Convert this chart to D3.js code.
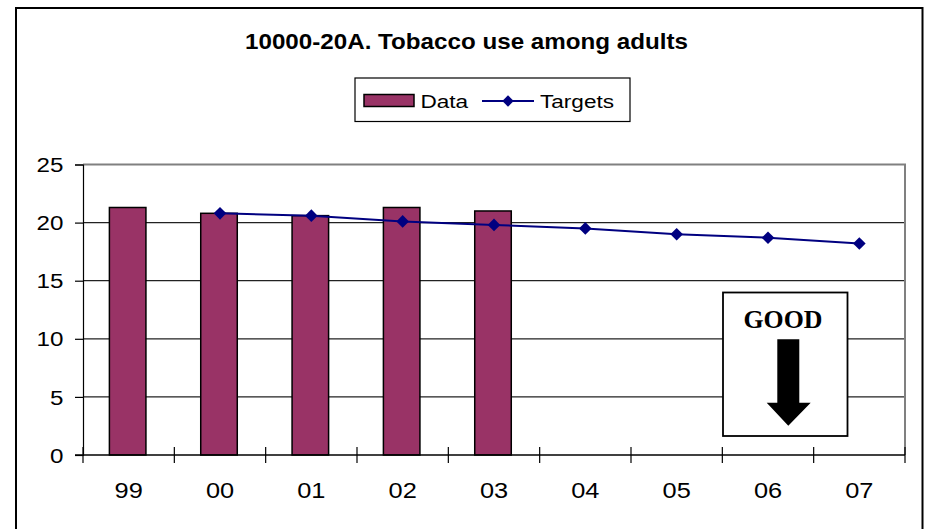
<!DOCTYPE html>
<html>
<head>
<meta charset="utf-8">
<script src="https://cdn.jsdelivr.net/npm/d3@7"></script>
<style>
  html, body { margin: 0; padding: 0; background: #fff; }
  svg { display: block; }
  text { font-family: Arial, "Liberation Sans", sans-serif; }
  text.serif { font-family: "Liberation Serif", "Times New Roman", serif; }
</style>
</head>
<body>
<svg id="chart" width="926" height="529"></svg>
<script>
// Tobacco use among adults: observed values (bars) and yearly targets (line)
const years = ["99", "00", "01", "02", "03", "04", "05", "06", "07"];
const dataValues = [21.3, 20.8, 20.6, 21.3, 21.0, null, null, null, null];
const targetValues = [null, 20.8, 20.6, 20.1, 19.8, 19.5, 19.0, 18.7, 18.2];
const yTicks = [0, 5, 10, 15, 20, 25];
const titleText = "10000-20A. Tobacco use among adults";

// the chart's lettering is slightly wide-set
const WIDE = 1.18;

const svg = d3.select("#chart");

// outer chart frame
svg.append("rect")
  .attr("x", 16).attr("y", 8)
  .attr("width", 906.5).attr("height", 540)
  .attr("fill", "#fff").attr("stroke", "#000").attr("stroke-width", 2);

// title
svg.append("text")
  .attr("x", 466.5).attr("y", 48.5)
  .attr("text-anchor", "middle")
  .attr("font-size", 22).attr("font-weight", "bold")
  .attr("textLength", 443).attr("lengthAdjust", "spacingAndGlyphs")
  .text(titleText);

// plot area
const plot = { left: 83, right: 905, top: 164.5, bottom: 455 };

const x = d3.scaleBand().domain(years).range([plot.left, plot.right]).paddingInner(0).paddingOuter(0);
const y = d3.scaleLinear().domain([0, 25]).range([plot.bottom, plot.top]);

// horizontal gridlines
svg.append("g")
  .selectAll("line")
  .data(yTicks.filter(t => t > 0 && t < 25))
  .join("line")
  .attr("x1", plot.left).attr("x2", plot.right)
  .attr("y1", d => y(d)).attr("y2", d => y(d))
  .attr("stroke", "#222").attr("stroke-width", 1.2);

// plot area border (top and right in gray)
svg.append("path")
  .attr("d", `M${plot.left},${y(25)}H${plot.right}V${plot.bottom}`)
  .attr("fill", "none").attr("stroke", "#808080").attr("stroke-width", 2);

// bars
const barW = x.bandwidth() * 0.4;
svg.append("g")
  .selectAll("rect")
  .data(years.map((yr, i) => ({ yr, v: dataValues[i] })).filter(d => d.v != null))
  .join("rect")
  .attr("x", d => x(d.yr) + x.bandwidth() / 2 - barW / 2 - 1)
  .attr("y", d => y(d.v))
  .attr("width", barW)
  .attr("height", d => y(0) - y(d.v))
  .attr("fill", "#993366")
  .attr("stroke", "#000").attr("stroke-width", 1.5);

// y axis
const yAxis = svg.append("g")
  .attr("transform", `translate(${plot.left},0)`)
  .call(d3.axisLeft(y).tickValues(yTicks).tickSize(8).tickPadding(12).tickFormat(d3.format("d")));
yAxis.select(".domain").attr("stroke", "#000").attr("stroke-width", 1.2);
yAxis.selectAll(".tick line").attr("stroke", "#000").attr("stroke-width", 1.2);
yAxis.selectAll(".tick text")
  .attr("font-size", 20.5).attr("fill", "#000")
  .attr("x", -19.5 / WIDE)
  .attr("dy", "0.35em")
  .attr("transform", `scale(${WIDE},1)`);

// x axis with crossing tick marks at category boundaries
const xg = svg.append("g");
xg.append("line")
  .attr("x1", plot.left - 8).attr("x2", plot.right)
  .attr("y1", y(0)).attr("y2", y(0))
  .attr("stroke", "#000").attr("stroke-width", 1.5);
const boundaries = years.map(yr => x(yr)).concat([x(years[years.length - 1]) + x.bandwidth()]);
xg.selectAll("line.tick")
  .data(boundaries)
  .join("line")
  .attr("class", "tick")
  .attr("x1", d => d).attr("x2", d => d)
  .attr("y1", y(0) - 8).attr("y2", y(0) + 8)
  .attr("stroke", "#000").attr("stroke-width", 1.2);
xg.selectAll("text")
  .data(years)
  .join("text")
  .attr("transform", d => `translate(${x(d) + x.bandwidth() / 2},497.5) scale(${WIDE},1)`)
  .attr("text-anchor", "middle")
  .attr("font-size", 21.5)
  .text(d => d);

// target line with diamond markers
const targetPts = years.map((yr, i) => ({ yr, v: targetValues[i] })).filter(d => d.v != null);
const line = d3.line()
  .x(d => x(d.yr) + x.bandwidth() / 2)
  .y(d => y(d.v));
svg.append("path")
  .datum(targetPts)
  .attr("d", line)
  .attr("fill", "none").attr("stroke", "#000080").attr("stroke-width", 2);
svg.append("g")
  .selectAll("path")
  .data(targetPts)
  .join("path")
  .attr("transform", d => `translate(${x(d.yr) + x.bandwidth() / 2},${y(d.v)}) rotate(45)`)
  .attr("d", d3.symbol().type(d3.symbolSquare).size(80))
  .attr("fill", "#000080");

// legend
const lg = svg.append("g");
lg.append("rect")
  .attr("x", 355).attr("y", 78).attr("width", 275).attr("height", 43.5)
  .attr("fill", "#fff").attr("stroke", "#000").attr("stroke-width", 1.2);
lg.append("rect")
  .attr("x", 364).attr("y", 94.5).attr("width", 50).attr("height", 12)
  .attr("fill", "#993366").attr("stroke", "#000").attr("stroke-width", 1.5);
lg.append("text")
  .attr("transform", `translate(420.5,107.5) scale(${WIDE + 0.04},1)`)
  .attr("font-size", 18.5).text("Data");
lg.append("line")
  .attr("x1", 482).attr("x2", 534).attr("y1", 101).attr("y2", 101)
  .attr("stroke", "#000080").attr("stroke-width", 2);
lg.append("path")
  .attr("transform", "translate(508,101) rotate(45)")
  .attr("d", d3.symbol().type(d3.symbolSquare).size(64))
  .attr("fill", "#000080");
lg.append("text")
  .attr("transform", `translate(540,107.5) scale(${WIDE + 0.04},1)`)
  .attr("font-size", 18.5).text("Targets");

// "GOOD" direction note with a downward arrow
const note = svg.append("g");
note.append("rect")
  .attr("x", 723).attr("y", 292.5).attr("width", 124.5).attr("height", 143.5)
  .attr("fill", "#fff").attr("stroke", "#000").attr("stroke-width", 1.8);
note.append("text")
  .attr("class", "serif")
  .attr("x", 783).attr("y", 328.3)
  .attr("text-anchor", "middle")
  .attr("font-weight", "bold").attr("font-size", 25)
  .attr("textLength", 79).attr("lengthAdjust", "spacingAndGlyphs")
  .text("GOOD");
note.append("path")
  .attr("d", "M777.3,339.3H799.3V402.7H810.7L788.3,425.7L766.7,402.7H777.3Z")
  .attr("fill", "#000");
</script>
</body>
</html>
